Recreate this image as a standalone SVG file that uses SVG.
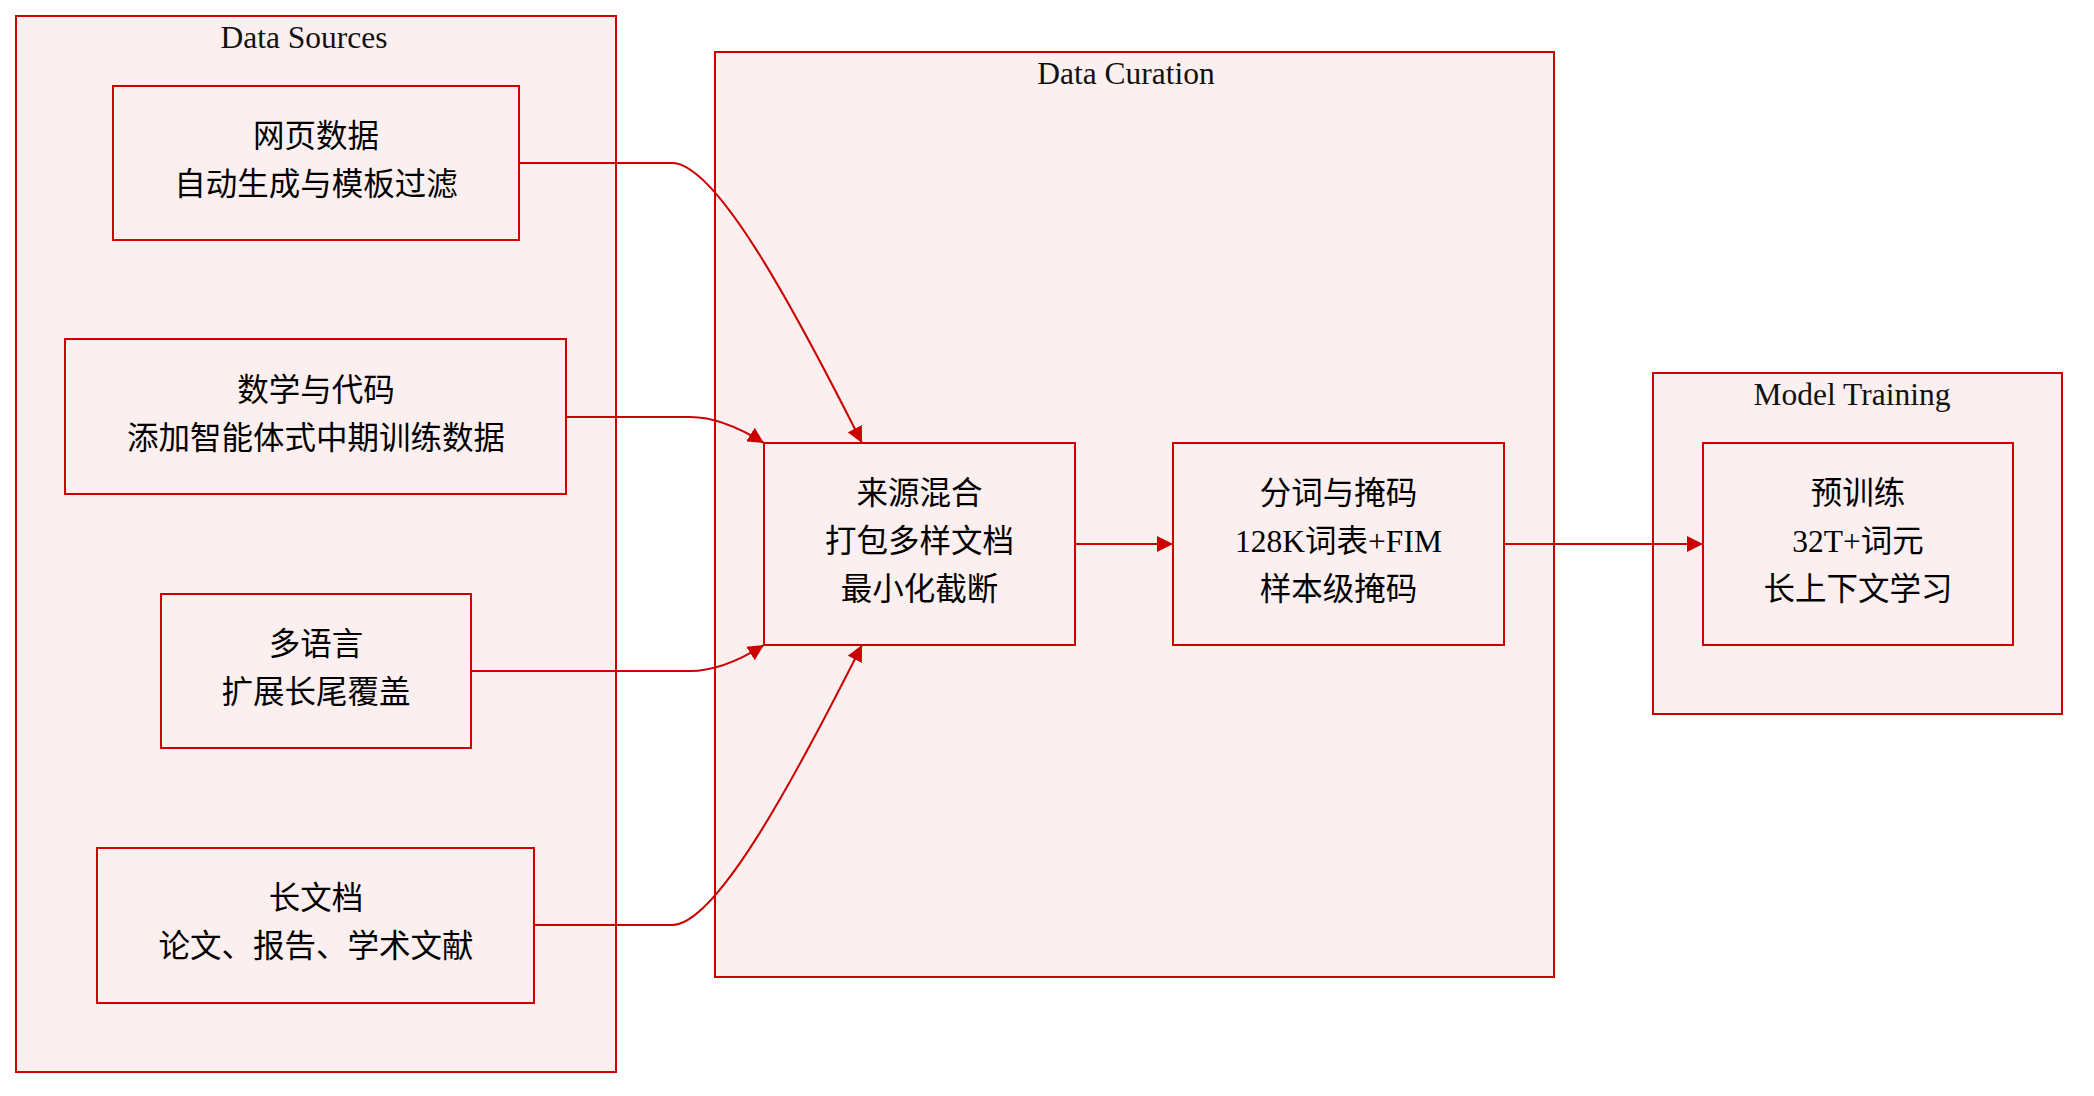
<svg xmlns="http://www.w3.org/2000/svg" width="2094" height="1096" viewBox="0 0 2094 1096">
<style>
.cluster{fill:#fcefef;stroke:#cc0000;stroke-width:2}
.node rect{fill:#fcefef;stroke:#cc0000;stroke-width:2}
.title{font-family:"Liberation Serif","Noto Sans CJK SC",serif;font-size:31.5px;fill:#111;text-anchor:middle}
.lbl{font-family:"Liberation Serif","Noto Sans CJK SC",serif;font-size:31.5px;fill:#000;text-anchor:middle}
.edge{fill:none;stroke:#cc0000;stroke-width:2}
</style>
<defs>
<marker id="arrow" viewBox="0 0 10 10" refX="10" refY="5" markerUnits="userSpaceOnUse" markerWidth="16" markerHeight="16" orient="auto">
<path d="M0,0 L10,5 L0,10 z" fill="#cc0000"/>
</marker>
</defs>
<rect width="2094" height="1096" fill="#ffffff"/>
<g id="cluster-sources">
<rect class="cluster" x="16" y="16" width="600" height="1056"/>
<text class="title" x="304" y="48">Data Sources</text>
</g>
<g id="cluster-curation">
<rect class="cluster" x="715" y="52" width="839" height="925"/>
<text class="title" x="1126" y="83.5">Data Curation</text>
</g>
<g id="cluster-training">
<rect class="cluster" x="1653" y="373" width="409" height="341"/>
<text class="title" x="1852" y="405">Model Training</text>
</g>
<g id="connectors">
<path class="edge" d="M519,163 L672,163 C715,163 790,300 862,443" marker-end="url(#arrow)"/>
<path class="edge" d="M566,417 L690,417 C715,417 740,428 764,443" marker-end="url(#arrow)"/>
<path class="edge" d="M471,671 L690,671 C715,671 740,660 764,645" marker-end="url(#arrow)"/>
<path class="edge" d="M534,925 L672,925 C715,925 790,788 862,645" marker-end="url(#arrow)"/>
<path class="edge" d="M1075,544 L1173,544" marker-end="url(#arrow)"/>
<path class="edge" d="M1504,544 L1703,544" marker-end="url(#arrow)"/>
</g>
<g id="node-web" class="node">
<rect x="113" y="86" width="406" height="154"/>
<text class="lbl" x="316" y="147">网页数据</text>
<text class="lbl" x="316" y="195">自动生成与模板过滤</text>
</g>
<g id="node-math" class="node">
<rect x="65" y="339" width="501" height="155"/>
<text class="lbl" x="316" y="401">数学与代码</text>
<text class="lbl" x="316" y="449">添加智能体式中期训练数据</text>
</g>
<g id="node-multi" class="node">
<rect x="161" y="594" width="310" height="154"/>
<text class="lbl" x="316" y="655">多语言</text>
<text class="lbl" x="316" y="703">扩展长尾覆盖</text>
</g>
<g id="node-long" class="node">
<rect x="97" y="848" width="437" height="155"/>
<text class="lbl" x="316" y="909">长文档</text>
<text class="lbl" x="316" y="957">论文、报告、学术文献</text>
</g>
<g id="node-mix" class="node">
<rect x="764" y="443" width="311" height="202"/>
<text class="lbl" x="919.5" y="504">来源混合</text>
<text class="lbl" x="919.5" y="552">打包多样文档</text>
<text class="lbl" x="919.5" y="600">最小化截断</text>
</g>
<g id="node-token" class="node">
<rect x="1173" y="443" width="331" height="202"/>
<text class="lbl" x="1338.5" y="504">分词与掩码</text>
<text class="lbl" x="1338.5" y="552">128K词表+FIM</text>
<text class="lbl" x="1338.5" y="600">样本级掩码</text>
</g>
<g id="node-pretrain" class="node">
<rect x="1703" y="443" width="310" height="202"/>
<text class="lbl" x="1858" y="504">预训练</text>
<text class="lbl" x="1858" y="552">32T+词元</text>
<text class="lbl" x="1858" y="600">长上下文学习</text>
</g>
</svg>
